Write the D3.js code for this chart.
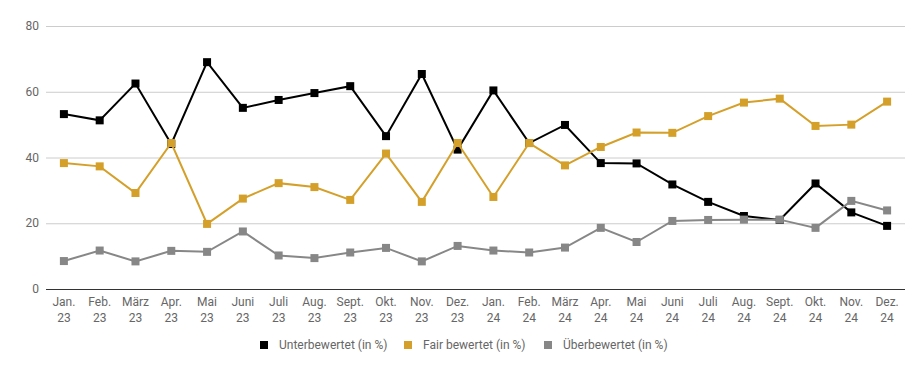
<!DOCTYPE html>
<html>
<head>
<meta charset="utf-8">
<script src="https://cdn.jsdelivr.net/npm/d3@7"></script>
<style>
  body { margin: 0; background: #fff; }
  svg { display: block; font-family: Roboto, sans-serif; }
</style>
</head>
<body>
<script>
// month labels, two lines each
var months = ["Jan.", "Feb.", "März", "Apr.", "Mai", "Juni", "Juli", "Aug.", "Sept.", "Okt.", "Nov.", "Dez.",
              "Jan.", "Feb.", "März", "Apr.", "Mai", "Juni", "Juli", "Aug.", "Sept.", "Okt.", "Nov.", "Dez."]
var years = ["23","23","23","23","23","23","23","23","23","23","23","23",
             "24","24","24","24","24","24","24","24","24","24","24","24"]

var unter = [53.2, 51.3, 62.5, 44.1, 69.0, 55.1, 57.5, 59.6, 61.7, 46.5, 65.4, 42.4,
             60.4, 44.4, 49.9, 38.3, 38.2, 31.8, 26.5, 22.2, 21.0, 32.1, 23.3, 19.2]
var fair = [38.3, 37.3, 29.2, 44.4, 19.8, 27.5, 32.2, 31.0, 27.1, 41.2, 26.5, 44.4,
            28.0, 44.4, 37.6, 43.2, 47.6, 47.5, 52.6, 56.7, 57.9, 49.6, 50.0, 57.0]
var ueber = [8.5, 11.7, 8.4, 11.6, 11.3, 17.5, 10.2, 9.4, 11.1, 12.5, 8.4, 13.1,
             11.7, 11.1, 12.6, 18.6, 14.3, 20.7, 21.0, 21.1, 21.1, 18.6, 26.8, 23.9]

var yTicks = [0, 20, 40, 60, 80]

var series = [
  { name: "Unterbewertet (in %)", values: unter, color: "#000000" },
  { name: "Fair bewertet (in %)", values: fair, color: "#d4a02a" },
  { name: "Überbewertet (in %)", values: ueber, color: "#878787" }
]

var width = 924, height = 371
var svg = d3.select("body").append("svg")
  .attr("width", width)
  .attr("height", height)

var x = d3.scaleBand()
  .domain(d3.range(months.length))
  .range([46, 905])

var y = d3.scaleLinear()
  .domain([0, 80])
  .range([289, 26])

// gridlines
svg.append("g")
  .selectAll("line")
  .data(yTicks.filter(function (d) { return d > 0 }))
  .enter().append("line")
  .attr("x1", 46).attr("x2", 905)
  .attr("y1", function (d) { return y(d) + 0.5 })
  .attr("y2", function (d) { return y(d) + 0.5 })
  .attr("stroke", "#cccccc")
  .attr("stroke-width", 1)

// y labels
svg.append("g")
  .selectAll("text")
  .data(yTicks)
  .enter().append("text")
  .attr("x", 39)
  .attr("y", function (d) { return y(d) })
  .attr("dy", "0.35em")
  .attr("text-anchor", "end")
  .attr("font-size", 12)
  .attr("fill", "#666666")
  .text(function (d) { return d })

// baseline
svg.append("line")
  .attr("x1", 46).attr("x2", 905)
  .attr("y1", y(0) + 0.5).attr("y2", y(0) + 0.5)
  .attr("stroke", "#333333")
  .attr("stroke-width", 1)

// x labels
var xl = svg.append("g")
  .selectAll("text")
  .data(months)
  .enter().append("text")
  .attr("text-anchor", "middle")
  .attr("font-size", 12)
  .attr("fill", "#666666")
xl.append("tspan")
  .attr("x", function (d, i) { return x(i) + x.bandwidth() / 2 })
  .attr("y", 306)
  .text(function (d) { return d })
xl.append("tspan")
  .attr("x", function (d, i) { return x(i) + x.bandwidth() / 2 })
  .attr("y", 322)
  .text(function (d, i) { return years[i] })

var line = d3.line()
  .x(function (d, i) { return x(i) + x.bandwidth() / 2 })
  .y(function (d) { return y(d) })

series.forEach(function (s) {
  var g = svg.append("g")
  g.append("path")
    .attr("d", line(s.values))
    .attr("fill", "none")
    .attr("stroke", s.color)
    .attr("stroke-width", 2)
  g.selectAll("rect")
    .data(s.values)
    .enter().append("rect")
    .attr("x", function (d, i) { return x(i) + x.bandwidth() / 2 - 4 })
    .attr("y", function (d) { return y(d) - 4 })
    .attr("width", 8)
    .attr("height", 8)
    .attr("fill", s.color)
})

// legend
var legend = svg.append("g")
var lx = [260, 404, 544]
series.forEach(function (s, i) {
  legend.append("rect")
    .attr("x", lx[i]).attr("y", 341)
    .attr("width", 8).attr("height", 8)
    .attr("fill", s.color)
  legend.append("text")
    .attr("x", lx[i] + 19).attr("y", 345)
    .attr("dy", "0.35em")
    .attr("font-size", 12)
    .attr("fill", "#666666")
    .text(s.name)
})
</script>
</body>
</html>
